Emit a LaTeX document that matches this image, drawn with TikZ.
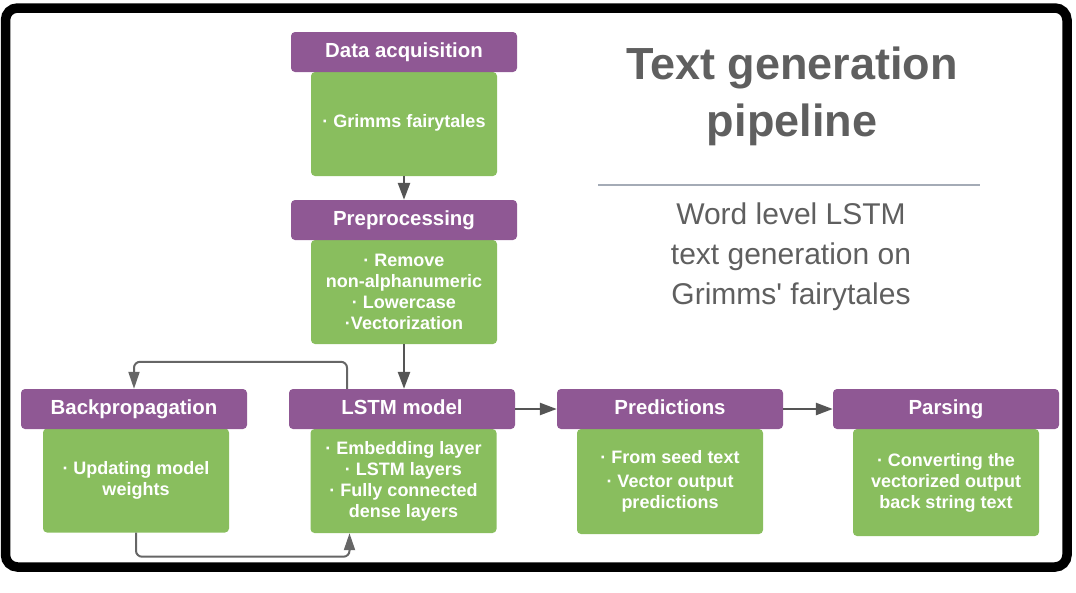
\documentclass[tikz,border=0pt]{standalone}
\usepackage{fontspec}
\setmainfont{Liberation Sans}[Ligatures=TeXOff]
\usetikzlibrary{arrows.meta}
\definecolor{hdrpurple}{RGB}{143,88,148}
\definecolor{bodygreen}{RGB}{137,190,94}
\definecolor{txtgray}{RGB}{95,95,95}
\definecolor{rulegray}{RGB}{164,171,182}
\definecolor{arrowgray}{RGB}{85,85,85}
\begin{document}
\begin{tikzpicture}[x=1pt,y=-1pt,
 hdr/.style={fill=hdrpurple, rounded corners=4pt, minimum width=226pt, minimum height=40pt, inner sep=0pt, text height=14.6pt, text depth=4.4pt, text=white, font=\bfseries\fontsize{20.4}{24}\selectfont},
 body/.style={fill=bodygreen, rounded corners=4pt, minimum width=186pt, minimum height=104pt, inner sep=0pt, text=white, align=center, font=\bfseries\fontsize{18}{21}\selectfont},
 flow/.style={draw=arrowgray, line width=2.6pt, -{Triangle[length=17pt,width=12pt]}},
 fbloop/.style={draw=arrowgray!90, line width=2pt, rounded corners=6pt, -{Triangle[length=17pt,width=11pt]}},
]
\useasboundingbox (0,0) rectangle (1076,592);
\draw[line width=9.5pt, rounded corners=12pt] (5.5,8) rectangle (1067,567);

\node[body, text height=13.1pt, text depth=7.1pt] (bodyA) at (404,124) {· Grimms fairytales};
\node[hdr] (hdrA) at (404,52) {Data acquisition};
\node[body] (bodyB) at (404,292) {· Remove\\non-alphanumeric\\· Lowercase\\·Vectorization};
\node[hdr] (hdrB) at (404,220) {Preprocessing};
\node[body] (bodyL) at (403.5,481) {· Embedding layer\\· LSTM layers\\· Fully connected\\dense layers};
\node[hdr] (hdrL) at (402,409) {LSTM model};
\node[body] (bodyK) at (136,480.5) {· Updating model\\weights};
\node[hdr] (hdrK) at (134,409) {Backpropagation};
\node[body,minimum height=105pt] (bodyP) at (670,481.5) {· From seed text\\[3pt]· Vector output\\predictions};
\node[hdr] (hdrP) at (670,409) {Predictions};
\node[body,minimum height=107pt] (bodyR) at (946,482.5) {· Converting the\\vectorized output\\back string text};
\node[hdr] (hdrR) at (946,409) {Parsing};

\draw[flow] (bodyA.south) -- (hdrB.north);
\draw[flow] (bodyB.south) -- (bodyB.south |- hdrL.north);
\draw[flow] (hdrL) -- (hdrP);
\draw[flow] (hdrP) -- (hdrR);
\draw[fbloop] ([xshift=-55pt]hdrL.north) -- ++(0,-27) -| (hdrK.north);
\draw[fbloop] (bodyK.south) -- ++(0,24) -| ([xshift=-54pt]bodyL.south);

\node[text=txtgray, font=\bfseries\fontsize{45}{57}\selectfont, align=center] (title) at (792,96) {Text generation\\pipeline};
\coordinate (ruleL) at (598,185);
\coordinate (ruleR) at (980,185);
\draw[rulegray, line width=2.7pt] (ruleL) -- (ruleR);
\node[text=txtgray, font=\fontsize{30}{40}\selectfont, align=center] (sub) at (791,257) {Word level LSTM\\text generation on\\Grimms' fairytales};
\end{tikzpicture}
\end{document}
